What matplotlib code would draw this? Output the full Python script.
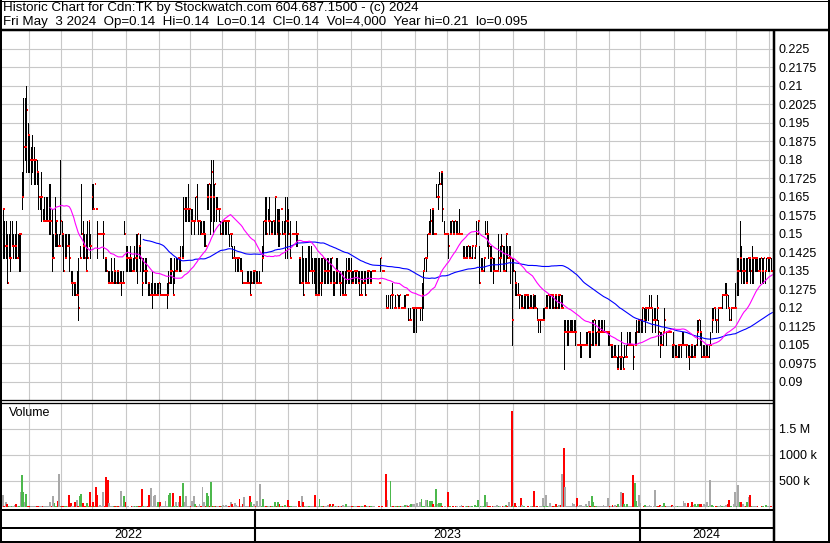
import numpy as np
import pandas as pd
import matplotlib
matplotlib.use("Agg")
import matplotlib.pyplot as plt

W, H = 830, 543
plt.rcParams["font.family"] = ["Liberation Sans", "DejaVu Sans"]

LAST_DAY = "2024-05-03"
HEADER = ["Historic Chart for Cdn:TK by Stockwatch.com 604.687.1500 - (c) 2024",
          "Fri May  3 2024  Op=0.14  Hi=0.14  Lo=0.14  Cl=0.14  Vol=4,000  Year hi=0.21  lo=0.095"]

# daily prices in cents, one entry per business day; None = no trade
HIGH_C = [
    16, 15.5, 15.5, 15, 15, 15.5, 15.5, 15, 15, 15.5,
    15, 15, 15, 17.5, 20.5, 20.5, 21, 19.5, 19, 18.5,
    19, 18.5, 18, 18, 17.5, 16.5, 17.5, 16, 16.5, 16.5,
    16.5, 17, 17, 16, 15, 16.5, 15.5, 15, 15, 18,
    15.5, 15, 15, 15, 15, 15, 13.5, 13.5, 13, 13,
    13.5, 14, 14.5, 17, 15.5, 15, 15, 15.5, 15.5, 15,
    17, 17, 17, 16, 15.5, 15, 15, 15, 15.5, 14,
    14, 13.5, 13.5, 14, 13.5, 14, 13.5, 13.5, 13.5, 13.5,
    13.5, 13.5, 15.5, 14.5, 14.5, 14, 14.5, 14, 14, 14.5,
    15, 15, 14.5, 15, 14, 14, 14, 14, 13, 13,
    13, 13.5, 13, 13, 13, 13, 13, 12.5, 12.5, 12.5,
    12.5, 13, 13.5, 14, 14, 13.5, 14, 14, 14, 14,
    14.5, 14.5, 16.5, 16.5, 16.5, 17, 16, 16, 16, 15.5,
    16.5, 17, 15.5, 15.5, 15.5, 15.5, 15.5, 15, 17, 17,
    17, 18, 18, 17, 16.5, 16.5, 16, 15.5, 15.5, 15.5,
    15.5, 15.5, 15.5, 15, 15, 14.5, 14.5, 14, 14, 14,
    14, 14, 13.5, 13, 13, 13.5, 13.5, 13.5, 13.5, 13.5,
    13.5, 13.5, 13.5, 13.5, 13, 14.5, 15.5, 16.5, 16.5, 16,
    16.5, 15.5, 15.5, 15.5, 16.5, 16, 16, 16, 16, 15.5,
    15.5, 16.5, 16.5, 16, 15.5, 15, 15, 15, 15.5, 15,
    14, 14, 14.5, 14, 14, 14, 14.5, 14.5, 14.5, 14,
    14, 14, 14, 14, 14, 14, 14, 14, 14, 14,
    14, 14, 14, 13.5, 13.5, 14, 14, 13.5, 13.5, 13.5,
    13.5, 13.5, 14, 14, 14, 14, 13.5, 13.5, 13.5, 13.5,
    13.5, 13.5, 13.5, 13.5, 13.5, 13.5, 13.5, 13.5, 13.5, 13.5,
    13.5, 13.5, None, None, 13, 14, 13.5, 13.5, None, 12.5,
    12.5, None, 12.5, 13, 12, 12.5, 12.5, 12.5, 12.5, 12,
    12, 12.5, 12.5, 12.5, 12, 12, 12, 12, 12, 12,
    12, 12, 12, 13, 13.5, 14, 14, 15, 15.5, 16,
    16, 16, 15, 17, 17, 17.5, 17.5, 17.5, 15.5, 15,
    15, 15, 15.5, 15.5, 15.5, 15.5, 15.5, 15.5, 16, 15,
    15, 14.5, 14.5, 14.5, 14.5, 14.5, 14.5, 14.5, 14, 14.5,
    15.5, 15.5, 14.5, 14, 14, 14, 15.5, 15.5, 15, 14.5,
    14.5, 14, 14, 13.5, 13.5, 15, 14.5, 15, 14.5, 14.5,
    15, 14.5, 14.5, 14.5, 14, 14, 13.5, 13, 13, 12.5,
    12.5, 12.5, 12.5, 12.5, 12.5, 12.5, 12.5, 12.5, 12.5, 12.5,
    12.5, 12, 11.5, 11.5, 11.5, 12, 12, 12.5, 12.5, 12.5,
    12.5, 12.5, 12.5, 12.5, 12.5, 12.5, 12.5, 12.5, 12.5, 11.5,
    11.5, 11.5, 11.5, 11.5, 11.5, 11.5, 11.5, 11.5, 10.5, 10.5,
    11, 10.5, 10.5, 10.5, 11, 11, 11, 11, 11.5, 11.5,
    11.5, 11, 11.5, 11.5, 11.5, 11.5, 11.5, 11, 11, 11,
    11, 10.5, 10.5, 10.5, 10.5, 10, 10.5, 10, 11, 10,
    10.5, 10.5, 11, 11, 11, 10.5, 10.5, 11, 11.5, 11.5,
    11.5, 11.5, 12, 12, 12, 12, 12, 12.5, 12.5, 12,
    12, 12, 12.5, 11.5, 11, 11, 11, 12, 11, 11,
    11, 11, 10.5, 11, 10.5, 10.5, 10.5, 10.5, 10.5, 11,
    11, 10.5, 10.5, 10.5, 10.5, 10.5, 10.5, 10.5, 10.5, 11.5,
    11.5, 11.5, 11, 10.5, 10.5, 10.5, 10.5, 10.5, 11, 12,
    12, 12, 11.5, 12, 12, 12, 12.5, 12.5, 13, 13,
    12.5, 12, 12, 12, 12, 13, 14, 14, 15.5, 14.5,
    14, 14, 14, 14, 14, 14, 14.5, 14, 14, 14,
    14, 14, 14, 14, 14, 13.5, 14, 14, 14, 14,
    14,
]
LOW_C = [
    14, 14, 14, 13, 14, 13.5, 14.5, 14, 14, 14,
    14, 13.5, 13.5, 16, 16.5, 18, 17.5, 17.5, 17.5, 17,
    17.5, 17, 17, 17, 16, 16, 15.5, 15.5, 15.5, 15.5,
    15.5, 15, 15, 13.5, 14, 14.5, 14.5, 14.5, 14.5, 15,
    14.5, 13.5, 14, 14, 14.5, 13.5, 13, 12.5, 12.5, 12.5,
    12.5, 11.5, 14, 15, 14, 14, 13.5, 14, 14.5, 14,
    16, 16, 17, 16, 14, 15, 15, 15, 14, 13.5,
    13.5, 13, 13, 13, 13, 13, 13, 13, 13, 13,
    12.5, 13, 15, 13.5, 13.5, 13.5, 13.5, 13.5, 13.5, 13.5,
    13.5, 13, 14, 13.5, 12.5, 13.5, 13, 13, 12.5, 12.5,
    12.5, 12, 12.5, 12.5, 12.5, 12.5, 12.5, 12.5, 12.5, 12.5,
    12.5, 12, 12.5, 13, 13, 12.5, 13, 13.5, 13.5, 13.5,
    13.5, 14, 14, 15.5, 15.5, 15.5, 15.5, 15, 15.5, 15,
    15.5, 15.5, 15, 15, 15, 15, 14.5, 14.5, 16, 16,
    15, 15.5, 15, 15.5, 15.5, 16, 15.5, 15, 15, 15,
    15, 15, 15, 14.5, 14.5, 14, 14, 13.5, 13.5, 13.5,
    13.5, 13.5, 13, 13, 13, 13, 13, 12.5, 13, 13,
    13, 13, 13, 13, 13, 13.5, 14, 15, 15, 15.5,
    15, 15, 15, 15, 15, 15, 14.5, 14.5, 16, 15,
    15, 14, 14, 15, 14, 15, 15, 15, 14.5, 14.5,
    13, 13, 13, 12.5, 13, 13, 13, 13.5, 13.5, 13,
    13, 12.5, 12.5, 12.5, 12.5, 12.5, 13, 13, 13, 13,
    13, 13, 13, 12.5, 12.5, 13, 13, 13, 12.5, 12.5,
    12.5, 12.5, 13, 13, 13, 13, 13, 13, 13, 13,
    13, 12.5, 12.5, 13, 13, 12.5, 13, 13, 13, 13,
    13.5, 13.5, None, None, 13, 13.5, 13.5, 13.5, None, 12,
    12, None, 12, 12, 12, 12, 12.5, 12, 12, 12,
    12, 12, 12, 12.5, 11.5, 11.5, 12, 11, 11, 11,
    12, 12, 11.5, 11.5, 12, 13.5, 13.5, 14, 15, 15,
    15, 15, 15, 16.5, 16, 17, 17, 15.5, 15, 15,
    15, 14, 15, 15, 15, 15, 15, 15, 15, 15,
    15, 14, 14, 14, 14, 14, 14, 14, 14, 14,
    14.5, 15, 13, 13.5, 13.5, 13.5, 15, 14.5, 14, 13.5,
    13.5, 13, 13.5, 13.5, 13.5, 13.5, 13.5, 14, 13.5, 13.5,
    13.5, 14, 14, 13, 10.5, 13.5, 12.5, 12.5, 12.5, 12,
    12, 12, 12, 12, 12, 12, 12, 12, 12, 12,
    12, 11.5, 11, 11, 11.5, 11.5, 11.5, 12, 12, 12,
    12, 12, 12, 12, 12, 12, 12, 12, 12, 9.5,
    11, 10.5, 10.5, 11, 11, 11, 11, 10.5, 10.5, 10.5,
    10, 10, 10.5, 10.5, 10.5, 10.5, 10, 10, 10.5, 10.5,
    10.5, 10.5, 10.5, 10.5, 11, 11, 11, 11, 11, 10.5,
    10.5, 10, 10, 10, 10, 9.5, 9.5, 9.5, 9.5, 9.5,
    10, 10, 10.5, 10.5, 10.5, 10.5, 9.5, 10.5, 10.5, 11,
    11, 11, 11, 11.5, 11, 11.5, 11.5, 12, 12, 11,
    11.5, 11, 11.5, 10.5, 10, 10.5, 10.5, 11, 10.5, 11,
    11, 11, 10, 10, 10, 10, 10, 10, 10, 10.5,
    10.5, 10.5, 10, 10, 9.5, 10, 10, 10, 10, 10.5,
    11, 10.5, 10, 10, 10, 10, 10, 10, 10.5, 11,
    11.5, 11.5, 11, 11, 12, 12, 12, 12.5, 12.5, 12,
    12, 11.5, 11.5, 12, 12, 12, 12.5, 12.5, 13.5, 13,
    13, 13, 13, 13, 13.5, 13, 13, 13, 13.5, 13.5,
    13.5, 13.5, 13, 13, 13, 13, 13.5, 13.5, 13.5, 13.5,
    14,
]
CLOSE_C = [
    16, 14.5, 14.5, 13, 14, 14, 14.5, 14.5, 14.5, 14,
    14, 15, 15, 16.5, 18.5, 18.5, 20, 19, 18, 18,
    18, 18, 18, 17.5, 16.5, 16.5, 16.5, 15.5, 15.5, 15.5,
    15.5, 15.5, 15.5, 14, 14, 15, 15.5, 14.5, 14.5, 15.5,
    15, 13.5, 14, 14.5, 14.5, 14, 13, 13, 13, 12.5,
    12.5, 12, 14, 15, 14.5, 14, 13.5, 14, 15.5, 14.5,
    16.5, 16, 17, 16, 15, 15, 15, 15, 15, 14,
    13.5, 13, 13, 13, 13, 13.5, 13, 13.5, 13, 13,
    13, 13, 15, 14, 14, 14, 14, 13.5, 13.5, 14,
    14, 15, 14.5, 14, 13, 13.5, 13.5, 13.5, 13, 12.5,
    12.5, 12.5, 12.5, 12.5, 12.5, 13, 12.5, 12.5, 12.5, 12.5,
    12.5, 12.5, 13, 13.5, 13.5, 12.5, 13.5, 13.5, 14, 14,
    13.5, 14, 16, 16, 16, 16, 16, 15.5, 15.5, 15.5,
    16.5, 15.5, 15.5, 15.5, 15, 15, 15, 14.5, 16.5, 17,
    16.5, 17.5, 16.5, 17, 16, 16, 16, 15, 15.5, 15.5,
    15.5, 15.5, 15.5, 15, 15, 14, 14, 14, 14, 14,
    13.5, 13.5, 13, 13, 13, 13, 13, 12.5, 13, 13.5,
    13.5, 13, 13, 13, 13, 14, 15.5, 15.5, 15, 15.5,
    15.5, 15, 15.5, 15.5, 16.5, 15, 15.5, 15, 16, 15,
    15, 15.5, 15.5, 15, 14, 15, 15, 15, 15, 15,
    14, 13, 13, 12.5, 13, 13, 13, 13.5, 13.5, 13.5,
    13.5, 12.5, 12.5, 12.5, 13, 13, 14, 13.5, 13.5, 13.5,
    13.5, 13, 14, 13, 13, 13.5, 13.5, 13, 13, 12.5,
    12.5, 12.5, 13.5, 13.5, 13.5, 13.5, 13, 13.5, 13.5, 13.5,
    13, 12.5, 12.5, 13, 13, 12.5, 13.5, 13.5, 13, 13.5,
    13.5, 13.5, None, None, 13, 14, 13.5, 13.5, None, 12,
    12, None, 12.5, 12.5, 12, 12, 12.5, 12, 12.5, 12,
    12, 12, 12.5, 12.5, 11.5, 11.5, 12, 12, 12, 12,
    12, 12, 12, 12.5, 13.5, 14, 14, 15, 15, 15.5,
    16, 15, 15, 16.5, 16.5, 17, 17.5, 16, 15, 15,
    15, 14.5, 15, 15.5, 15, 15.5, 15, 15, 15, 15,
    15, 14, 14, 14, 14.5, 14, 14, 14.5, 14, 14.5,
    15, 15.5, 13, 13.5, 13.5, 14, 15, 15, 14.5, 14,
    14, 13.5, 13.5, 13.5, 13.5, 14, 14, 14.5, 13.5, 13.5,
    15, 14, 14, 14, 11.5, 13.5, 13, 12.5, 12.5, 12.5,
    12, 12, 12.5, 12.5, 12.5, 12, 12, 12, 12.5, 12,
    12, 11.5, 11.5, 11.5, 11.5, 11.5, 12, 12, 12.5, 12.5,
    12.5, 12.5, 12, 12.5, 12, 12.5, 12.5, 12, 12, 11,
    11, 11, 11, 11, 11, 11, 11, 11, 10.5, 10.5,
    10.5, 10.5, 10.5, 10.5, 10.5, 11, 11, 10.5, 11, 11.5,
    10.5, 11, 11, 11, 11, 11, 11, 11, 11, 11,
    10.5, 10.5, 10, 10, 10, 9.5, 10, 10, 10, 9.5,
    10, 10, 10.5, 10.5, 10.5, 10.5, 10, 10.5, 11, 11.5,
    11.5, 11.5, 12, 11.5, 12, 12, 12, 12, 12, 11.5,
    11.5, 11.5, 12, 11, 10.5, 10.5, 11, 11.5, 11, 11,
    11, 11, 10.5, 10.5, 10, 10, 10.5, 10.5, 10.5, 10.5,
    10.5, 10.5, 10.5, 10, 10, 10.5, 10, 10, 10.5, 11,
    11.5, 11, 10, 10, 10, 10, 10, 10.5, 10.5, 11.5,
    12, 12, 11.5, 12, 12, 12, 12.5, 12.5, 12.5, 12.5,
    12, 11.5, 12, 12, 12, 12, 13.5, 13.5, 14, 13.5,
    13.5, 13.5, 13, 14, 14, 13.5, 14, 14, 14, 14,
    13.5, 13.5, 14, 13.5, 14, 13.5, 14, 14, 14, 13.5,
    14,
]
# daily volume in thousands of shares
VOLUME_K = [
    218, 20, 103, 58, 20, 26, 20, 26, 38, 58,
    20, 20, 282, 603, 282, 90, 250, 26, 20, 20,
    26, 20, 20, 10, 20, 20, 20, 10, 20, 20,
    10, 20, 103, 20, 199, 77, 20, 122, 622, 26,
    10, 20, 10, 20, 20, 218, 70, 20, 20, 90,
    141, 20, 199, 250, 77, 26, 20, 77, 20, 282,
    20, 90, 20, 372, 218, 20, 45, 20, 282, 20,
    564, 506, 77, 20, 26, 20, 26, 20, 10, 20,
    295, 20, 199, 103, 26, 20, 5, 20, 20, 10,
    20, 10, 20, 20, 333, 10, 20, 20, 26, 218,
    359, 20, 199, 218, 20, 90, 103, 20, 20, 10,
    122, 20, 218, 263, 20, 269, 20, 103, 20, 90,
    205, 20, 449, 103, 205, 20, 26, 20, 122, 199,
    58, 20, 20, 58, 20, 372, 90, 20, 263, 205,
    20, 468, 13, 20, 20, 13, 20, 20, 20, 38,
    20, 38, 20, 20, 103, 58, 20, 77, 38, 20,
    154, 20, 58, 180, 20, 26, 20, 199, 90, 20,
    58, 20, 122, 20, 429, 20, 154, 26, 20, 26,
    20, 10, 20, 20, 90, 20, 90, 58, 20, 26,
    20, 45, 20, 141, 20, 10, 20, 20, 20, 5,
    122, 20, 205, 90, 20, 10, 20, 20, 10, 20,
    20, 218, 10, 20, 154, 20, 26, 20, 26, 20,
    45, 58, 26, 58, 20, 26, 20, 10, 26, 20,
    45, 20, 58, 20, 20, 10, 20, 10, 20, 20,
    10, 13, 20, 20, 13, 38, 20, 20, 10, 20,
    20, 20, 0, 0, 20, 5, 20, 5, 0, 635,
    135, 0, 487, 20, 13, 20, 20, 20, 10, 20,
    20, 20, 38, 45, 20, 38, 58, 58, 58, 20,
    80, 13, 90, 154, 26, 20, 141, 141, 20, 122,
    122, 58, 20, 346, 58, 77, 77, 20, 5, 20,
    5, 276, 20, 5, 20, 5, 20, 20, 5, 20,
    38, 20, 5, 20, 20, 20, 13, 20, 5, 45,
    20, 141, 5, 20, 26, 20, 218, 103, 20, 26,
    5, 20, 26, 20, 45, 20, 20, 5, 20, 13,
    45, 20, 90, 20, 1835, 26, 70, 20, 5, 20,
    167, 45, 20, 5, 5, 20, 5, 20, 20, 295,
    20, 20, 5, 20, 13, 167, 20, 218, 26, 20,
    77, 20, 26, 20, 58, 20, 38, 38, 628, 1130,
    372, 20, 10, 10, 20, 77, 58, 20, 167, 20,
    38, 45, 26, 20, 58, 26, 122, 20, 205, 103,
    20, 10, 20, 10, 10, 20, 38, 20, 26, 167,
    26, 20, 38, 20, 38, 13, 58, 20, 276, 269,
    58, 20, 51, 20, 26, 20, 603, 449, 122, 20,
    224, 70, 5, 20, 38, 10, 20, 38, 20, 5,
    20, 314, 20, 10, 38, 26, 20, 77, 20, 26,
    10, 20, 38, 20, 5, 20, 26, 20, 10, 20,
    122, 70, 20, 77, 5, 20, 90, 38, 51, 20,
    51, 51, 51, 20, 51, 38, 90, 20, 506, 38,
    20, 5, 26, 26, 20, 38, 26, 20, 26, 38,
    58, 141, 20, 5, 58, 288, 20, 410, 103, 90,
    58, 26, 20, 90, 186, 218, 20, 26, 13, 26,
    20, 5, 5, 20, 20, 5, 45, 20, 20, 20,
    4,
]

PRICE_TICKS = [0.09, 0.0975, 0.105, 0.1125, 0.12, 0.1275, 0.135, 0.1425, 0.15, 0.1575,
               0.165, 0.1725, 0.18, 0.1875, 0.195, 0.2025, 0.21, 0.2175, 0.225]
PRICE_LABELS = ["0.09", "0.0975", "0.105", "0.1125", "0.12", "0.1275", "0.135", "0.1425",
                "0.15", "0.1575", "0.165", "0.1725", "0.18", "0.1875", "0.195", "0.2025",
                "0.21", "0.2175", "0.225"]
VOLUME_TICKS = [500000, 1000000, 1500000]
VOLUME_LABELS = ["500 k", "1000 k", "1.5 M"]

SHORT_MA, LONG_MA = 33, 96
GRID = "#c8c8c8"
UP, DOWN, FLAT = "#4cb84c", "#ff0000", "#a8a8a8"


def px_axes(fig, left, top, right, bottom):
    """Axes placed by pixel edges, measured from the top-left corner."""
    return fig.add_axes([left / W, 1 - bottom / H, (right - left) / W, (bottom - top) / H])


def style_panel(ax, n, month_edges):
    ax.set_xlim(-0.5, n - 0.5)
    ax.set_xticks(month_edges)
    ax.grid(True, color=GRID, lw=0.8)
    ax.set_axisbelow(True)
    ax.yaxis.tick_right()
    ax.tick_params(length=0, labelbottom=False, labelleft=False, labelright=True,
                   pad=4.3, labelsize=9)
    for side in ax.spines.values():
        side.set_visible(False)


def main():
    n = len(CLOSE_C)
    days = pd.bdate_range(end=LAST_DAY, periods=n)
    x = np.arange(n)
    high = np.array(HIGH_C, dtype=float) / 100
    low = np.array(LOW_C, dtype=float) / 100
    close = pd.Series(CLOSE_C, dtype=float) / 100
    volume = np.array(VOLUME_K, dtype=float) * 1000
    traded = close.notna().to_numpy()

    new_month = np.flatnonzero(days.month[1:] != days.month[:-1]) + 1
    new_year = np.flatnonzero(days.year[1:] != days.year[:-1]) + 1
    month_edges = new_month - 0.5
    year_edges = new_year - 0.5

    fig = plt.figure(figsize=(W / 100, H / 100), dpi=100)

    # price panel: 1px high-low bars with a small red close tick
    ax = px_axes(fig, 2, 31, 773, 400)
    style_panel(ax, n, month_edges)
    ax.set_ylim(0.08258, 0.23218)
    ax.set_yticks(PRICE_TICKS, PRICE_LABELS)
    ax.vlines(x[traded], low[traded], high[traded], color="black", lw=0.5,
              antialiased=False, zorder=3)
    ax.hlines(close[traded], x[traded] + 0.3, x[traded] + 1.3, color="#ff0000", lw=1.2,
              antialiased=False, zorder=4)
    trades = close.dropna()
    for window, colour in ((LONG_MA, "#0000ff"), (SHORT_MA, "#ff00ff")):
        avg = trades.rolling(window).mean()
        ax.plot(avg.index, avg.to_numpy(), color=colour, lw=0.8, zorder=5)
    ax.text(9, 42, "Cdn:TK", transform=None, fontsize=9, va="center")

    # volume panel, coloured by the day's move in the close
    axv = px_axes(fig, 2, 403, 773, 509.5)
    style_panel(axv, n, month_edges)
    axv.set_ylim(-50000, 1988000)
    axv.set_yticks(VOLUME_TICKS, VOLUME_LABELS)
    move = trades.diff().reindex(range(n)).fillna(0).to_numpy()
    colours = np.where(move > 0, UP, np.where(move < 0, DOWN, FLAT))
    axv.bar(x[traded], volume[traded], width=1.25, color=colours[traded], linewidth=0,
            antialiased=False, zorder=3)

    # date strip: year names centred on their spans
    axd = px_axes(fig, 2, 510, 773, 541)
    axd.set_xlim(-0.5, n - 0.5)
    axd.set_ylim(0, 1)
    axd.axis("off")
    bounds = np.concatenate([[-0.5], year_edges, [n - 0.5]])
    years = [days[0].year] + [days[i].year for i in new_year]
    for left, right, year in zip(bounds[:-1], bounds[1:], years):
        axd.text((left + right) / 2, 0.2, str(year), ha="center", va="center", fontsize=9)
    axd.vlines(year_edges, 0, 1, color="black", lw=1.5)

    # header text
    fig.text(3 / W, 1 - 8 / H, HEADER[0], fontsize=9.6, va="center")
    fig.text(3 / W, 1 - 21.5 / H, HEADER[1], fontsize=9.6, va="center")
    fig.text(9 / W, 1 - 413 / H, "Volume", fontsize=9, va="center")

    # frame rules in pixel space
    ov = fig.add_axes([0, 0, 1, 1])
    ov.set_xlim(0, W)
    ov.set_ylim(H, 0)
    ov.axis("off")
    rules = [((0, W), (0.5, 0.5), 1.0), ((1, 1), (0, H), 2.0), ((828.8, 828.8), (0, H), 2.0),
             ((0, W), (541.5, 541.5), 2.0), ((0, W), (29.5, 29.5), 2.5),
             ((774, 774), (29.5, H), 2.5), ((0, 774), (400, 400), 1.3),
             ((0, 774), (402.7, 402.7), 1.3), ((0, 774), (510.2, 510.2), 2.0),
             ((0, 774), (527.7, 527.7), 2.0)]
    for xs, ys, width in rules:
        ov.plot(xs, ys, color="black", lw=width * 0.72, solid_capstyle="butt")

    fig.savefig("out.png", dpi=100)


if __name__ == "__main__":
    main()
